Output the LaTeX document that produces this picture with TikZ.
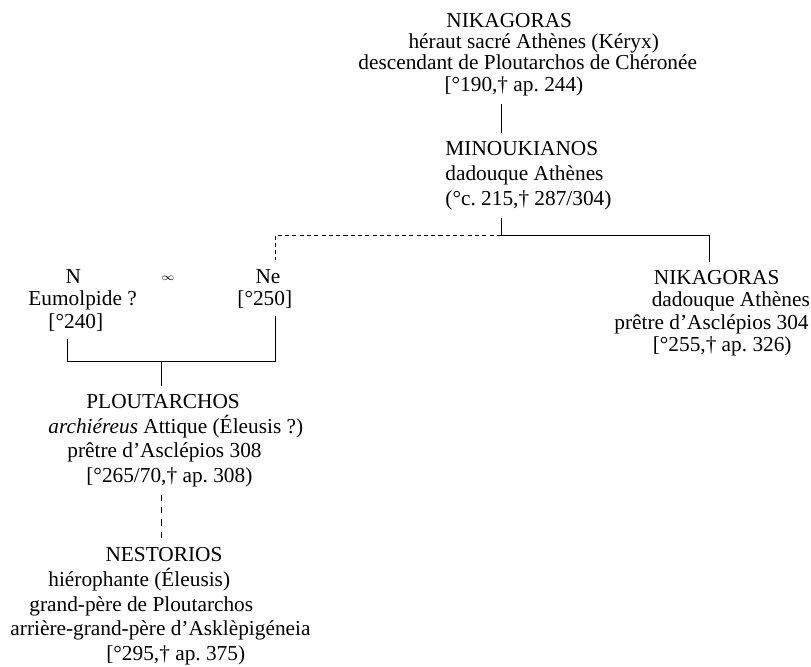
\documentclass[tikz,border=0pt]{standalone}
\usepackage{fontspec}
\setmainfont{Liberation Serif}
\frenchspacing

\begin{document}
\begin{tikzpicture}[x=0.4926pt, y=-0.4926pt, line width=0.45pt,
    person/.style={anchor=base west, align=left, inner xsep=0pt, inner ysep=4pt,
      font=\fontsize{10.5pt}{#1}\selectfont},
    person/.default=10.84pt,
    guess/.style={dash pattern=on 2pt off 1.6pt}]
  \useasboundingbox (0,0) rectangle (811,666);
  % generation 1 and 2 (anchors sit on the last line)
  \node[person=10.4pt] (nikagoras) at (358,91) {\hspace*{4.13em}NIKAGORAS\\
    \hspace*{2.35em}héraut sacré Athènes (Kéryx)\\
    descendant de Ploutarchos de Chéronée\\
    \hspace*{4.04em}[°190,† ap. 244)};
  \node[person=12.2pt] (minoukianos) at (445,205) {MINOUKIANOS\\
    dadouque Athènes\\
    (°c. 215,† 287/304)};
  \coordinate (jtop) at (501,235);
  \coordinate (jleft) at (275,235);
  \coordinate (jright) at (709,235);
  \draw (nikagoras.south -| jtop) -- (minoukianos.north -| jtop);
  \draw (minoukianos.south -| jtop) -- (jtop);
  % generation 3
  \node[person=11pt] (n) at (28,328) {\hspace*{1.74em}N\\
    Eumolpide ?\\
    \hspace*{0.94em}[°240]};
  \node[inner sep=0pt] (marriage) at (168,278) {$\scriptscriptstyle\infty$};
  \node[person] (ne) at (237,305) {\hspace*{0.85em}Ne\\
    {[}°250]};
  \node[person] (nikagorasii) at (614,351) {\hspace*{1.85em}NIKAGORAS\\
    \hspace*{1.75em}dadouque Athènes\\
    prêtre d’Asclépios 304\\
    \hspace*{1.8em}[°255,† ap. 326)};
  \draw[guess] (jtop) -- (jleft) -- (ne.north -| jleft);
  \draw (jtop) -- (jright) -- (nikagorasii.north -| jright);
  % generation 4 and 5
  \coordinate (jn) at (67,361);
  \coordinate (jne) at (275,361);
  \coordinate (jchild) at (161,361);
  \draw (n.south -| jn) -- (jn) -- (jne) -- (ne.south -| jne);
  \node[person=12.07pt] (ploutarchos) at (48,482) {\hspace*{1.78em}PLOUTARCHOS\\
    \textit{archiéreus} Attique (Éleusis ?)\\
    \hspace*{0.89em}prêtre d’Asclépios 308\\
    \hspace*{1.78em}[°265/70,† ap. 308)};
  \node[person=12.07pt] (nestorios) at (10,660) {\hspace*{4.46em}NESTORIOS\\
    \hspace*{1.78em}hiérophante (Éleusis)\\
    \hspace*{0.89em}grand-père de Ploutarchos\\
    arrière-grand-père d’Asklèpigéneia\\
    \hspace*{4.5em}[°295,† ap. 375)};
  \draw (jchild) -- (ploutarchos.north -| jchild);
  \draw[dash pattern=on 3pt off 3pt] (ploutarchos.south -| jchild) -- (nestorios.north -| jchild);
\end{tikzpicture}
\end{document}
